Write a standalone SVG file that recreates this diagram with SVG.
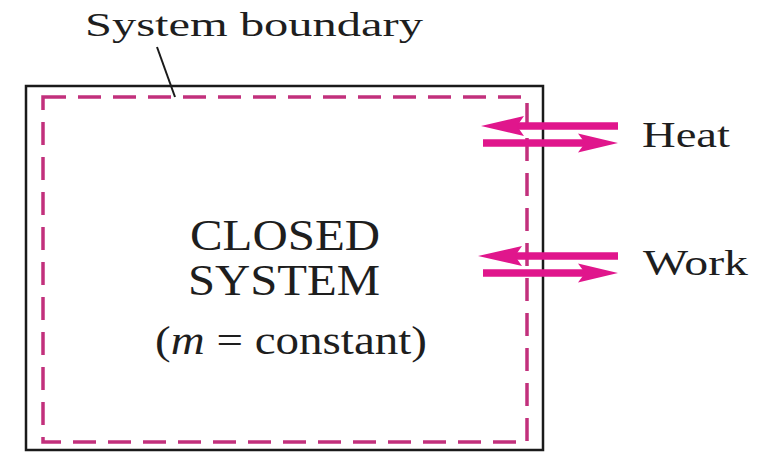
<svg xmlns="http://www.w3.org/2000/svg" width="759" height="452" viewBox="0 0 759 452">
  <style>
    .lbl { font-family: "Liberation Serif", "Times New Roman", serif; fill: #1e1e1e; }
    .flow { stroke: #e0168c; stroke-width: 7.5; fill: none; }
    .head { fill: #e0168c; }
  </style>
  <rect width="759" height="452" fill="#ffffff"/>

  <g id="system">
    <rect x="26" y="86" width="517" height="364" fill="none" stroke="#1a1a1a" stroke-width="2.5"/>
    <rect x="43" y="97" width="484" height="345" fill="none" stroke="#c2307c" stroke-width="3.5" stroke-dasharray="23 12"/>
    <text class="lbl" x="190" y="250" font-size="44" textLength="190" lengthAdjust="spacingAndGlyphs">CLOSED</text>
    <text class="lbl" x="188" y="295" font-size="44" textLength="192" lengthAdjust="spacingAndGlyphs">SYSTEM</text>
    <text class="lbl" x="155" y="354" font-size="39" textLength="272" lengthAdjust="spacingAndGlyphs">(<tspan font-style="italic">m</tspan> = constant)</text>
  </g>

  <g id="boundary-label">
    <text class="lbl" x="85" y="36" font-size="34" textLength="338" lengthAdjust="spacingAndGlyphs">System boundary</text>
  </g>

  <g id="heat">
    <text class="lbl" x="642" y="147" font-size="35" textLength="88" lengthAdjust="spacingAndGlyphs">Heat</text>
  </g>

  <g id="work">
    <text class="lbl" x="643" y="275" font-size="35" textLength="105" lengthAdjust="spacingAndGlyphs">Work</text>
  </g>

  <g id="connectors">
    <line x1="157" y1="47" x2="175" y2="97" stroke="#1a1a1a" stroke-width="2"/>
    <line class="flow" x1="618" y1="126" x2="516" y2="126"/>
    <path class="head" d="M481,126 L524,116 L517,126 L524,136 Z"/>
    <line class="flow" x1="483" y1="143" x2="586" y2="143"/>
    <path class="head" d="M618,143 L578,133.5 L585,143 L578,152.5 Z"/>
    <line class="flow" x1="618" y1="256" x2="514" y2="256"/>
    <path class="head" d="M478,256 L522,246 L515,256 L522,266 Z"/>
    <line class="flow" x1="483" y1="273" x2="586" y2="273"/>
    <path class="head" d="M618,273 L578,263.5 L585,273 L578,282.5 Z"/>
  </g>
</svg>
